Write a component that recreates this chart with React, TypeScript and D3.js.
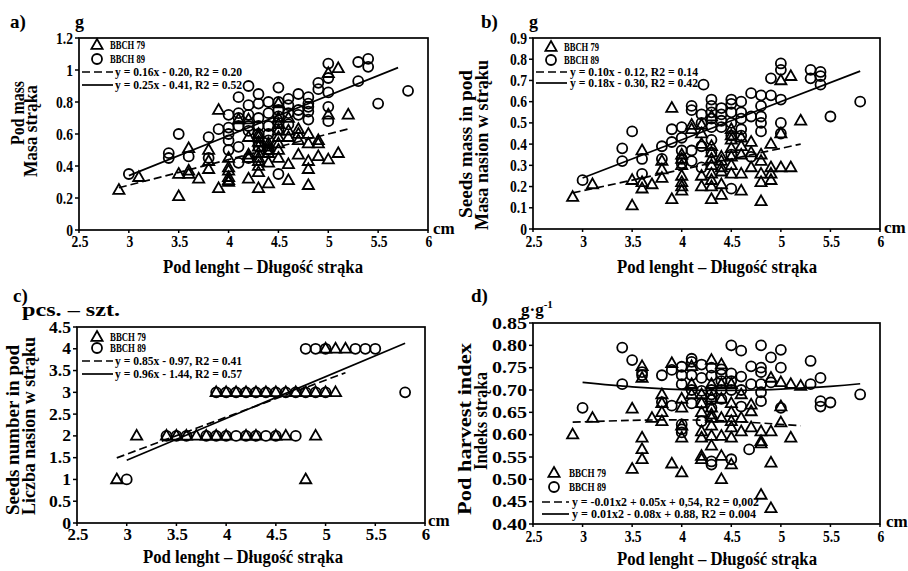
import React from 'react';
import * as d3 from 'd3';

// ---------- data ----------
const xTicks = [2.5, 3, 3.5, 4, 4.5, 5, 5.5, 6];
const xTickLabels = ['2.5', '3', '3.5', '4', '4.5', '5', '5.5', '6'];
const aYTicks = [0, 0.2, 0.4, 0.6, 0.8, 1, 1.2];
const aYLabels = ['0', '0.2', '0.4', '0.6', '0.8', '1', '1.2'];
const bYTicks = [0, 0.1, 0.2, 0.3, 0.4, 0.5, 0.6, 0.7, 0.8, 0.9];
const bYLabels = ['0', '0.1', '0.2', '0.3', '0.4', '0.5', '0.6', '0.7', '0.8', '0.9'];
const cYTicks = [0, 0.5, 1, 1.5, 2, 2.5, 3, 3.5, 4, 4.5];
const cYLabels = ['0', '0.5', '1', '1.5', '2', '2.5', '3', '3.5', '4', '4.5'];
const dYTicks = [0.4, 0.45, 0.5, 0.55, 0.6, 0.65, 0.7, 0.75, 0.8, 0.85];
const dYLabels = ['0.40', '0.45', '0.50', '0.55', '0.60', '0.65', '0.70', '0.75', '0.80', '0.85'];

const aTri: [number, number][] = [
  [2.9, 0.25], [3.1, 0.33], [3.5, 0.21], [3.5, 0.35], [3.6, 0.51], [3.6, 0.37], [3.6, 0.35], [3.7, 0.32],
  [3.8, 0.38], [3.8, 0.5], [3.8, 0.43], [3.9, 0.75], [3.9, 0.26], [4.0, 0.3], [4.0, 0.37], [4.0, 0.39],
  [4.0, 0.31], [4.0, 0.33], [4.0, 0.45], [4.1, 0.69], [4.2, 0.32], [4.2, 0.45], [4.2, 0.58], [4.2, 0.69],
  [4.2, 0.47], [4.3, 0.26], [4.3, 0.4], [4.3, 0.45], [4.3, 0.52], [4.3, 0.6], [4.3, 0.36], [4.3, 0.48],
  [4.3, 0.55], [4.3, 0.58], [4.3, 0.43], [4.4, 0.29], [4.4, 0.42], [4.4, 0.48], [4.4, 0.54], [4.4, 0.5],
  [4.4, 0.52], [4.5, 0.45], [4.5, 0.54], [4.5, 0.62], [4.5, 0.7], [4.5, 0.79], [4.5, 0.5], [4.5, 0.58],
  [4.5, 0.66], [4.6, 0.31], [4.6, 0.41], [4.6, 0.58], [4.6, 0.7], [4.6, 0.62], [4.7, 0.47], [4.7, 0.56],
  [4.7, 0.63], [4.7, 0.6], [4.8, 0.28], [4.8, 0.38], [4.8, 0.43], [4.8, 0.54], [4.8, 0.6], [4.9, 0.46],
  [4.9, 0.54], [4.9, 0.56], [5.0, 0.44], [5.0, 0.72], [5.0, 0.98], [5.1, 0.48], [5.1, 1.01], [5.2, 0.72],
];
const aCirc: [number, number][] = [
  [3.0, 0.35], [3.4, 0.48], [3.4, 0.45], [3.5, 0.6], [3.6, 0.46], [3.8, 0.58], [3.8, 0.45], [3.9, 0.63],
  [4.0, 0.72], [4.0, 0.64], [4.0, 0.56], [4.0, 0.5], [4.0, 0.6], [4.1, 0.83], [4.1, 0.73], [4.1, 0.65],
  [4.1, 0.52], [4.1, 0.42], [4.1, 0.7], [4.2, 0.9], [4.2, 0.78], [4.2, 0.72], [4.2, 0.65], [4.2, 0.45],
  [4.2, 0.62], [4.3, 0.85], [4.3, 0.79], [4.3, 0.7], [4.3, 0.6], [4.3, 0.52], [4.3, 0.55], [4.3, 0.65],
  [4.4, 0.8], [4.4, 0.73], [4.4, 0.65], [4.4, 0.56], [4.4, 0.6], [4.4, 0.5], [4.5, 0.89], [4.5, 0.8],
  [4.5, 0.71], [4.5, 0.63], [4.5, 0.35], [4.5, 0.67], [4.5, 0.75], [4.6, 0.82], [4.6, 0.73], [4.6, 0.66],
  [4.6, 0.78], [4.7, 0.85], [4.7, 0.75], [4.7, 0.72], [4.8, 0.83], [4.8, 0.79], [4.8, 0.74], [4.8, 0.69],
  [4.8, 0.77], [4.9, 0.92], [4.9, 0.88], [5.0, 1.04], [5.0, 0.95], [5.0, 0.86], [5.0, 0.77], [5.0, 0.68],
  [5.3, 1.05], [5.3, 0.93], [5.4, 1.07], [5.4, 1.02], [5.5, 0.79], [5.8, 0.87],
];

const bTri: [number, number][] = [
  [2.9, 0.15], [3.1, 0.21], [3.5, 0.11], [3.5, 0.23], [3.6, 0.37], [3.6, 0.22], [3.6, 0.19], [3.7, 0.21],
  [3.8, 0.24], [3.8, 0.28], [3.8, 0.32], [3.9, 0.57], [3.9, 0.14], [4.0, 0.25], [4.0, 0.2], [4.0, 0.18],
  [4.0, 0.22], [4.0, 0.33], [4.0, 0.3], [4.0, 0.35], [4.1, 0.49], [4.1, 0.47], [4.2, 0.2], [4.2, 0.25],
  [4.2, 0.4], [4.2, 0.49], [4.2, 0.45], [4.3, 0.14], [4.3, 0.2], [4.3, 0.26], [4.3, 0.33], [4.3, 0.39],
  [4.3, 0.53], [4.3, 0.3], [4.3, 0.36], [4.3, 0.23], [4.4, 0.16], [4.4, 0.21], [4.4, 0.29], [4.4, 0.34],
  [4.4, 0.27], [4.4, 0.32], [4.5, 0.26], [4.5, 0.3], [4.5, 0.34], [4.5, 0.42], [4.5, 0.47], [4.5, 0.38],
  [4.5, 0.44], [4.6, 0.18], [4.6, 0.26], [4.6, 0.39], [4.6, 0.43], [4.6, 0.35], [4.7, 0.29], [4.7, 0.41],
  [4.7, 0.36], [4.8, 0.13], [4.8, 0.22], [4.8, 0.26], [4.8, 0.32], [4.8, 0.35], [4.9, 0.23], [4.9, 0.26],
  [4.9, 0.29], [4.9, 0.4], [5.0, 0.29], [5.0, 0.45], [5.0, 0.7], [5.1, 0.29], [5.1, 0.72], [5.2, 0.51],
];
const bCirc: [number, number][] = [
  [3.0, 0.23], [3.4, 0.38], [3.4, 0.32], [3.5, 0.46], [3.6, 0.26], [3.6, 0.33], [3.8, 0.39], [3.8, 0.33],
  [3.9, 0.41], [3.9, 0.47], [4.0, 0.48], [4.0, 0.43], [4.0, 0.37], [4.0, 0.33], [4.0, 0.31], [4.1, 0.58],
  [4.1, 0.56], [4.1, 0.37], [4.1, 0.32], [4.2, 0.54], [4.22, 0.68], [4.2, 0.29], [4.2, 0.39], [4.2, 0.5],
  [4.3, 0.61], [4.3, 0.58], [4.3, 0.55], [4.3, 0.42], [4.3, 0.48], [4.3, 0.52], [4.3, 0.36], [4.4, 0.57],
  [4.4, 0.54], [4.4, 0.51], [4.4, 0.48], [4.5, 0.61], [4.5, 0.59], [4.5, 0.55], [4.5, 0.35], [4.5, 0.19],
  [4.5, 0.5], [4.5, 0.44], [4.6, 0.6], [4.6, 0.55], [4.6, 0.52], [4.6, 0.47], [4.6, 0.44], [4.7, 0.64],
  [4.7, 0.53], [4.7, 0.34], [4.8, 0.63], [4.8, 0.58], [4.8, 0.53], [4.8, 0.46], [4.8, 0.5], [4.9, 0.71],
  [4.9, 0.63], [5.0, 0.78], [5.0, 0.75], [5.0, 0.61], [5.0, 0.5], [5.0, 0.45], [5.3, 0.75], [5.3, 0.71],
  [5.4, 0.74], [5.4, 0.72], [5.4, 0.68], [5.5, 0.53], [5.8, 0.6],
];

const cTri: [number, number][] = [
  [2.9, 1], [3.1, 2], [3.4, 2], [3.5, 2], [3.6, 2], [3.7, 2], [3.8, 2], [3.9, 2], [4.0, 2], [4.2, 2],
  [4.3, 2], [4.5, 2], [4.6, 2], [4.9, 2], [4.8, 1], [3.9, 3], [4.0, 3], [4.1, 3], [4.2, 3], [4.3, 3],
  [4.4, 3], [4.5, 3], [4.6, 3], [4.7, 3], [4.8, 3], [4.9, 3], [5.0, 3], [5.1, 3], [5.0, 4], [5.1, 4], [5.2, 4],
];
const cCirc: [number, number][] = [
  [3.0, 1], [3.4, 2], [3.5, 2], [3.6, 2], [3.8, 2], [3.9, 2], [4.0, 2], [4.1, 2], [4.2, 2], [4.3, 2],
  [4.4, 2], [4.5, 2], [4.7, 2], [3.9, 3], [4.0, 3], [4.1, 3], [4.2, 3], [4.3, 3], [4.4, 3], [4.5, 3],
  [4.6, 3], [4.7, 3], [4.8, 3], [4.9, 3], [5.0, 3], [4.8, 4], [4.9, 4], [5.0, 4], [5.3, 4], [5.4, 4],
  [5.5, 4], [5.8, 3],
];

const dTri: [number, number][] = [
  [2.9, 0.6], [3.1, 0.637], [3.5, 0.658], [3.5, 0.523], [3.6, 0.753], [3.6, 0.727], [3.6, 0.593], [3.6, 0.567],
  [3.6, 0.545], [3.7, 0.637], [3.8, 0.69], [3.8, 0.67], [3.8, 0.65], [3.8, 0.63], [3.9, 0.76], [3.9, 0.535],
  [4.0, 0.68], [4.0, 0.66], [4.0, 0.593], [4.0, 0.515], [4.0, 0.62], [4.1, 0.713], [4.1, 0.753], [4.1, 0.69],
  [4.2, 0.607], [4.2, 0.593], [4.2, 0.552], [4.2, 0.545], [4.2, 0.65], [4.2, 0.67], [4.2, 0.69], [4.3, 0.767],
  [4.3, 0.713], [4.3, 0.683], [4.3, 0.637], [4.3, 0.597], [4.3, 0.575], [4.3, 0.66], [4.3, 0.62], [4.3, 0.645],
  [4.4, 0.757], [4.4, 0.713], [4.4, 0.637], [4.4, 0.597], [4.4, 0.552], [4.4, 0.5], [4.4, 0.68], [4.5, 0.713],
  [4.5, 0.65], [4.5, 0.616], [4.5, 0.593], [4.5, 0.533], [4.5, 0.67], [4.5, 0.63], [4.6, 0.69], [4.6, 0.637],
  [4.6, 0.607], [4.7, 0.667], [4.7, 0.652], [4.7, 0.616], [4.8, 0.607], [4.8, 0.585], [4.8, 0.58], [4.8, 0.465],
  [4.9, 0.727], [4.9, 0.607], [4.9, 0.537], [4.9, 0.435], [5.0, 0.717], [5.0, 0.663], [5.0, 0.627], [5.1, 0.713],
  [5.1, 0.593], [5.2, 0.709],
];
const dCirc: [number, number][] = [
  [3.0, 0.66], [3.4, 0.795], [3.4, 0.713], [3.5, 0.767], [3.6, 0.74], [3.6, 0.733], [3.8, 0.733], [3.8, 0.673],
  [3.9, 0.745], [3.9, 0.665], [4.0, 0.752], [4.0, 0.733], [4.0, 0.713], [4.0, 0.623], [4.0, 0.612], [4.0, 0.605],
  [4.1, 0.77], [4.1, 0.763], [4.1, 0.733], [4.1, 0.67], [4.1, 0.7], [4.2, 0.757], [4.2, 0.727], [4.2, 0.63],
  [4.2, 0.698], [4.2, 0.67], [4.3, 0.75], [4.3, 0.732], [4.3, 0.7], [4.3, 0.678], [4.3, 0.533], [4.3, 0.54],
  [4.3, 0.66], [4.3, 0.69], [4.4, 0.746], [4.4, 0.735], [4.4, 0.7], [4.4, 0.72], [4.4, 0.68], [4.5, 0.8],
  [4.5, 0.737], [4.5, 0.72], [4.5, 0.545], [4.5, 0.7], [4.6, 0.788], [4.6, 0.73], [4.6, 0.663], [4.6, 0.7],
  [4.7, 0.753], [4.7, 0.713], [4.68, 0.567], [4.8, 0.8], [4.8, 0.75], [4.8, 0.74], [4.8, 0.713], [4.8, 0.695],
  [4.8, 0.675], [4.9, 0.773], [4.9, 0.717], [5.0, 0.79], [5.0, 0.75], [5.0, 0.66], [5.3, 0.765], [5.3, 0.713],
  [5.4, 0.727], [5.4, 0.675], [5.4, 0.663], [5.5, 0.672], [5.8, 0.69],
];

// linear trend lines: [slope, intercept, xStart, xEnd]
const aFit79 = [0.16, -0.2, 2.9, 5.2];
const aFit89 = [0.25, -0.41, 3.0, 5.7];
const bFit79 = [0.1, -0.12, 2.9, 5.2];
const bFit89 = [0.18, -0.3, 3.0, 5.8];
const cFit79 = [0.85, -0.97, 2.9, 5.2];
const cFit89 = [0.96, -1.44, 3.0, 5.8];
// quadratic trend curves in panel d
const dTrend79: [number, number][] = [[2.9, 0.628], [3.5, 0.632], [4.0, 0.633], [4.5, 0.63], [5.2, 0.62]];
const dTrend89: [number, number][] = [[3.0, 0.717], [3.5, 0.707], [4.0, 0.701], [4.5, 0.699], [5.0, 0.702], [5.5, 0.708], [5.8, 0.714]];

// ---------- drawing helpers ----------
const FONT = "'Liberation Serif', 'Times New Roman', serif";

function T(props: any) {
  const { x, y, children, size = 16, anchor = 'start', len, rot = 0, sx = 1, weight = 'bold' } = props;
  return (
    <text
      transform={`translate(${x},${y}) rotate(${rot}) scale(${sx},1)`}
      fontSize={size}
      textAnchor={anchor}
      fontFamily={FONT}
      fontWeight={weight}
      fill="#000"
      textLength={len}
      lengthAdjust={len ? 'spacingAndGlyphs' : undefined}
    >
      {children}
    </text>
  );
}

const triPath = 'M0,-6L5.6,3.8L-5.6,3.8Z';

function Tri({ x, y }: { x: number; y: number }) {
  return <path d={triPath} transform={`translate(${x},${y})`} fill="none" stroke="#000" strokeWidth={1.8} strokeLinejoin="miter" />;
}
function Circ({ x, y }: { x: number; y: number }) {
  return <circle cx={x} cy={y} r={5} fill="none" stroke="#000" strokeWidth={1.8} />;
}

const DASH = '8,4';

function Panel(p: any) {
  const x = d3.scaleLinear().domain([2.5, 6]).range([p.left, p.right]);
  const y = d3.scaleLinear().domain(p.yDomain).range([p.bottom, p.top]);
  const linePath = (fit: number[]) => {
    const pts: [number, number][] = [[fit[2], fit[0] * fit[2] + fit[1]], [fit[3], fit[0] * fit[3] + fit[1]]];
    return d3.line<[number, number]>().x((d) => x(d[0])).y((d) => y(d[1]))(pts) as string;
  };
  const curvePath = (pts: [number, number][]) =>
    d3.line<[number, number]>().x((d) => x(d[0])).y((d) => y(d[1])).curve(d3.curveNatural)(pts) as string;
  const path79 = p.curve79 ? curvePath(p.curve79) : linePath(p.fit79);
  const path89 = p.curve89 ? curvePath(p.curve89) : linePath(p.fit89);
  const L = p.legend;
  return (
    <g>
      {/* frame */}
      <rect x={p.left} y={p.top} width={p.right - p.left} height={p.bottom - p.top} fill="none" stroke="#000" strokeWidth={1.7} />
      {/* y ticks */}
      {p.yTicks.map((t: number, i: number) => (
        <g key={'y' + i}>
          <line x1={p.left - 4} x2={p.left} y1={y(t)} y2={y(t)} stroke="#000" strokeWidth={1.5} />
          <T x={p.left - 6} y={y(t) + 5.5} anchor="end" size={16} sx={p.ySx}>{p.yLabels[i]}</T>
        </g>
      ))}
      {/* x ticks */}
      {xTicks.map((t, i) => (
        <g key={'x' + i}>
          <line x1={x(t)} x2={x(t)} y1={p.bottom} y2={p.bottom + 3} stroke="#000" strokeWidth={1.5} />
          <T x={x(t) + 1} y={p.xLabY} anchor="middle" size={16} sx={p.xSx}>{xTickLabels[i]}</T>
        </g>
      ))}
      {/* points */}
      {p.tri.map((d: [number, number], i: number) => <Tri key={'t' + i} x={x(d[0])} y={y(d[1])} />)}
      {p.circ.map((d: [number, number], i: number) => <Circ key={'c' + i} x={x(d[0])} y={y(d[1])} />)}
      {/* trends */}
      <path d={path79} fill="none" stroke="#000" strokeWidth={1.7} strokeDasharray={DASH} />
      <path d={path89} fill="none" stroke="#000" strokeWidth={1.7} />
      {/* legend */}
      <Tri x={L.mx} y={L.y1} />
      <T x={L.tx} y={L.y1 + 4} size={12.5} len={L.bl}>BBCH 79</T>
      <Circ x={L.mx} y={L.y2} />
      <T x={L.tx} y={L.y2 + 4} size={12.5} len={L.bl}>BBCH 89</T>
      <line x1={L.lx1} x2={L.lx2} y1={L.y3} y2={L.y3} stroke="#000" strokeWidth={1.7} strokeDasharray={DASH} />
      <T x={L.fx} y={L.y3 + 4} size={12.5} len={L.f1l}>{L.f1}</T>
      <line x1={L.lx1} x2={L.lx2} y1={L.y4} y2={L.y4} stroke="#000" strokeWidth={1.7} />
      <T x={L.fx} y={L.y4 + 4} size={12.5} len={L.f2l}>{L.f2}</T>
      {/* labels */}
      <T x={p.tag[0]} y={p.tag[1]} size={19}>{p.tag[2]}</T>
      {p.unit}
      <T x={p.cm[0]} y={p.cm[1]} size={17}>cm</T>
      <T x={p.xTitle[0]} y={p.xTitle[1]} anchor="middle" size={18} len={200}>Pod lenght – Długość strąka</T>
      {p.yTitle.map((l: any[], i: number) => (
        <T key={'yt' + i} x={l[1]} y={l[2]} rot={-90} anchor="middle" size={18} len={l[3]}>{l[0]}</T>
      ))}
    </g>
  );
}

export default function App() {
  return (
    <svg width={908} height={571} style={{ position: 'absolute', left: 0, top: 0, background: '#fff' }}>
      <rect width={908} height={571} fill="#fff" />
      <Panel
        left={79} right={428} top={38} bottom={230} yDomain={[0, 1.2]}
        yTicks={aYTicks} yLabels={aYLabels} ySx={0.85} xSx={0.85} xLabY={247}
        tri={aTri} circ={aCirc} fit79={aFit79} fit89={aFit89}
        legend={{ mx: 97, tx: 110, bl: 35, y1: 45, y2: 59, y3: 72, y4: 85, lx1: 82, lx2: 113, fx: 115, f1: 'y = 0.16x - 0.20,  R2 = 0.20', f1l: 127, f2: 'y = 0.25x - 0.41,  R2 = 0.52', f2l: 127 }}
        tag={[10, 28, 'a)']}
        unit={<T x={75} y={28} size={18}>g</T>}
        cm={[433, 234]}
        xTitle={[263, 273]}
        yTitle={[['Pod mass', 24, 113, 64], ['Masa strąka', 37, 131, 92]]}
      />
      <Panel
        left={533} right={880} top={38} bottom={229} yDomain={[0, 0.9]}
        yTicks={bYTicks} yLabels={bYLabels} ySx={0.85} xSx={0.85} xLabY={247}
        tri={bTri} circ={bCirc} fit79={bFit79} fit89={bFit89}
        legend={{ mx: 551, tx: 564, bl: 35, y1: 47, y2: 60, y3: 72, y4: 83, lx1: 536, lx2: 567, fx: 570, f1: 'y = 0.10x - 0.12,  R2 = 0.14', f1l: 128, f2: 'y = 0.18x - 0.30,  R2 = 0.42', f2l: 128 }}
        tag={[481, 28, 'b)']}
        unit={<T x={529} y={28} size={18}>g</T>}
        cm={[884, 233]}
        xTitle={[717, 273]}
        yTitle={[['Seeds mass in pod', 472, 144, 148], ['Masa nasion w strąku', 488, 145, 170]]}
      />
      <Panel
        left={77} right={425} top={327} bottom={523} yDomain={[0, 4.5]}
        yTicks={cYTicks} yLabels={cYLabels} ySx={1.1} xSx={1.05} xLabY={540}
        tri={cTri} circ={cCirc} fit79={cFit79} fit89={cFit89}
        legend={{ mx: 97, tx: 110, bl: 36, y1: 337, y2: 348, y3: 361, y4: 374, lx1: 82, lx2: 113, fx: 115, f1: 'y = 0.85x - 0.97,  R2 = 0.41', f1l: 127, f2: 'y = 0.96x - 1.44,  R2 = 0.57', f2l: 127 }}
        tag={[13, 302, 'c)']}
        unit={<T x={22} y={316} size={18} len={98}>pcs. – szt.</T>}
        cm={[428, 526]}
        xTitle={[243, 563]}
        yTitle={[['Seeds number in pod', 19, 430, 170], ['Liczba nasion w strąku', 35, 426, 178]]}
      />
      <Panel
        left={533} right={880} top={323} bottom={524} yDomain={[0.4, 0.85]}
        yTicks={dYTicks} yLabels={dYLabels} ySx={1.25} xSx={0.85} xLabY={542}
        tri={dTri} circ={dCirc} curve79={dTrend79} curve89={dTrend89}
        legend={{ mx: 554, tx: 569, bl: 37, y1: 473, y2: 487, y3: 502, y4: 514, lx1: 542, lx2: 569, fx: 572, f1: 'y = -0.01x2 + 0.05x + 0,54,  R2 = 0,002', f1l: 187, f2: 'y = 0.01x2 - 0.08x + 0.88,  R2 = 0.004', f2l: 184 }}
        tag={[471, 302, 'd)']}
        unit={
          <text x={521} y={315} fontFamily={FONT} fontWeight="bold" fontSize={17}>
            g·g<tspan dy={-7} fontSize={11}>-1</tspan>
          </text>
        }
        cm={[886, 527]}
        xTitle={[717, 565]}
        yTitle={[['Pod harvest index', 471, 429, 172], ['Indeks strąka', 487, 421, 98]]}
      />
    </svg>
  );
}
